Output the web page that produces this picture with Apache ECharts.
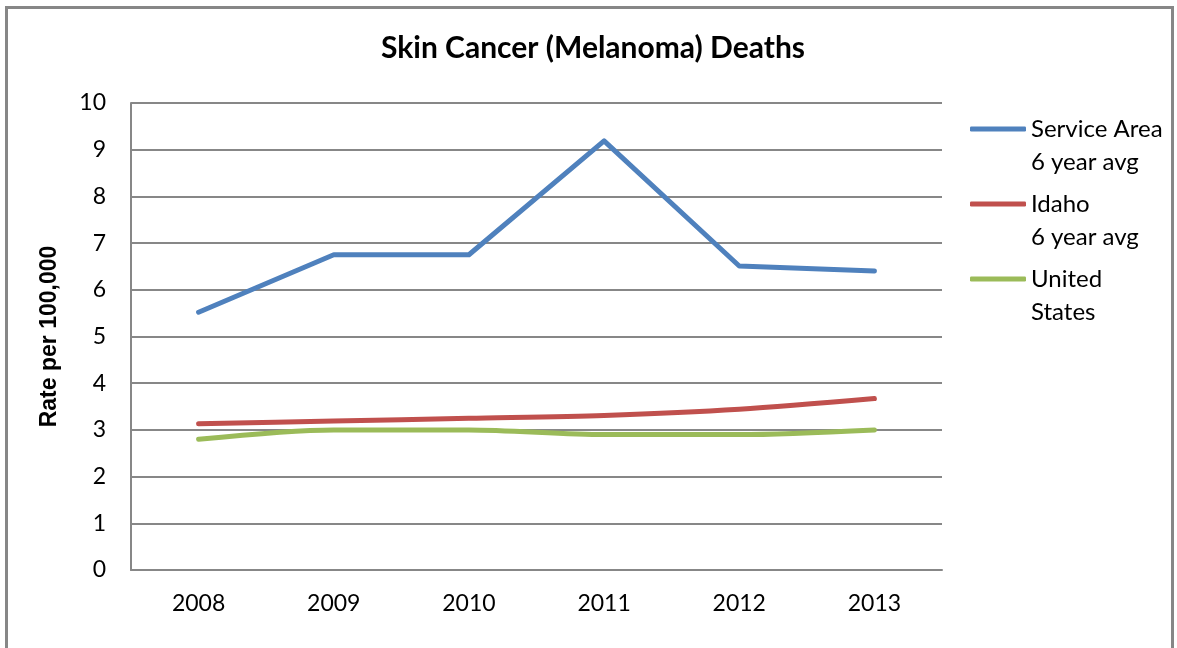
<!DOCTYPE html>
<html>
<head>
<meta charset="utf-8">
<script src="https://cdn.jsdelivr.net/npm/echarts@6/dist/echarts.min.js"></script>
<style>
html,body{margin:0;padding:0;background:#fff;}
#chart{width:1177px;height:648px;}
</style>
</head>
<body>
<div id="chart"></div>
<script>
const categories = ['2008', '2009', '2010', '2011', '2012', '2013'];
const serviceArea = [5.52, 6.75, 6.75, 9.19, 6.51, 6.40];
const idaho = [3.13, 3.19, 3.25, 3.31, 3.44, 3.67];
const unitedStates = [2.80, 3.00, 3.00, 2.90, 2.90, 3.00];
const seriesNames = ['Service Area\n6 year avg', 'Idaho\n6 year avg', 'United\nStates'];
const yTicks = [0, 1, 2, 3, 4, 5, 6, 7, 8, 9, 10];

const FONT = 'Lato';
const chart = echarts.init(document.getElementById('chart'), null, {renderer: 'canvas'});
chart.setOption({
  backgroundColor: '#ffffff',
  animation: false,
  title: {
    text: 'Skin Cancer (Melanoma) Deaths',
    left: 588, top: 28, textAlign: 'center',
    textStyle: {fontFamily: FONT, fontWeight: 'bold', fontSize: 30, color: '#000'}
  },
  graphic: [{
    type: 'rect', shape: {x: 6.5, y: 7.5, width: 1166, height: 660},
    style: {fill: 'none', stroke: '#878787', lineWidth: 3}, silent: true
  }],
  legend: {
    orient: 'vertical', left: 970, top: 79.5, padding: 0,
    itemWidth: 56, itemHeight: 5, itemGap: -24, icon: 'roundRect',
    formatter: name => '\n' + name,
    textStyle: {fontFamily: FONT, fontSize: 24, color: '#000', lineHeight: 33},
    data: seriesNames
  },
  grid: {left: 131, right: 235, top: 103, bottom: 78},
  xAxis: {
    type: 'category', data: categories, boundaryGap: true,
    axisLine: {lineStyle: {color: '#878787', width: 2}},
    axisTick: {show: false},
    axisLabel: {fontFamily: FONT, fontSize: 23, color: '#000', margin: 22}
  },
  yAxis: {
    type: 'value', min: 0, max: 10, interval: 1,
    name: 'Rate per 100,000', nameLocation: 'middle', nameGap: 70, nameRotate: 90,
    nameTextStyle: {fontFamily: 'Liberation Sans', fontWeight: 'bold', fontSize: 23, color: '#000'},
    axisLine: {show: true, lineStyle: {color: '#878787', width: 2}},
    axisTick: {show: false},
    splitLine: {lineStyle: {color: '#878787', width: 2}},
    axisLabel: {fontFamily: FONT, fontSize: 23, color: '#000', margin: 25,
      formatter: v => yTicks.includes(v) ? String(v) : ''}
  },
  series: [
    {name: seriesNames[0], type: 'line', data: serviceArea, symbol: 'none',
     color: '#4F81BD', lineStyle: {width: 5, color: '#4F81BD', cap: 'round', join: 'round'}},
    {name: seriesNames[1], type: 'line', data: idaho, symbol: 'none', smooth: 0.3,
     color: '#C0504D', lineStyle: {width: 5, color: '#C0504D', cap: 'round', join: 'round'}},
    {name: seriesNames[2], type: 'line', data: unitedStates, symbol: 'none', smooth: 0.3,
     color: '#9BBB59', lineStyle: {width: 5, color: '#9BBB59', cap: 'round', join: 'round'}}
  ]
});
</script>
</body>
</html>
